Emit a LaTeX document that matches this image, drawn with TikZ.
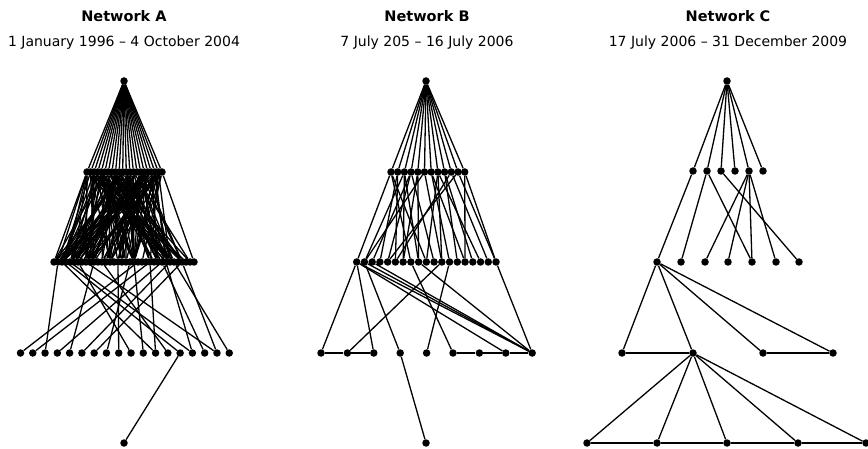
\documentclass[tikz,border=0pt]{standalone}
\usepackage{fontspec}
\setmainfont{DejaVu Sans}
\usetikzlibrary{positioning}

\begin{document}
\begin{tikzpicture}[
    x=1pt, y=-1pt,
    dot/.style={circle, fill=black, inner sep=0pt, minimum size=7.5pt},
    link/.style={line width=1.3pt, black},
    title/.style={font=\bfseries\fontsize{14.5}{17}\selectfont, inner sep=1pt},
    period/.style={font=\fontsize{14}{17}\selectfont, inner sep=1pt},
]
\useasboundingbox (0,0) rectangle (868,449);

% headings
\node[title] (tA) at (124,16) {Network A};
\node[period, below=12pt of tA] (pA) {1 January 1996 – 4 October 2004};
\node[title] (tB) at (427,16) {Network B};
\node[period, below=12pt of tB] (pB) {7 July 205 – 16 July 2006};
\node[title] (tC) at (728,16) {Network C};
\node[period, below=12pt of tC] (pC) {17 July 2006 – 31 December 2009};

% ---- Network A ----
\node[dot] (a0) at (124,81) {};
\foreach \i in {1,...,22}
    \node[dot] (a1-\i) at ({87+(\i-1)*75/21},172) {};
\foreach \i in {1,...,36}
    \node[dot] (a2-\i) at ({54+(\i-1)*4},262) {};
\foreach \i in {1,...,18}
    \node[dot] (a3-\i) at ({20.5+(\i-1)*12.28},353) {};
\node[dot] (a4) at (124,443) {};

\foreach \i in {1,...,22}
    \draw[link] (a0) -- (a1-\i);
\foreach \i in {1,...,22} {
    \foreach \k in {0,...,5} {
        \pgfmathtruncatemacro\j{mod(5*\i*\i+13*\k+3*\i*\k+7*\k*\k,36)+1}
        \draw[link] (a1-\i) -- (a2-\j);
    }
}
% outer and crossing links
\foreach \s/\t in {1/1, 22/36, 1/4, 2/30, 3/34, 4/33, 6/28, 17/8, 18/3, 20/5,
                   21/2, 22/10}
    \draw[link] (a1-\s) -- (a2-\t);
\foreach \s/\t in {2/3, 3/12, 4/14, 7/10, 11/5, 13/13, 22/1, 25/2, 28/4, 30/6,
                   33/7, 20/8, 17/9, 21/11, 25/12, 28/16, 31/18, 29/15, 33/17,
                   5/15, 9/17}
    \draw[link] (a2-\s) -- (a3-\t);
\draw[link] (a3-14) -- (a4);

% ---- Network B ----
\node[dot] (b0) at (426,81) {};
\foreach \i in {1,...,12}
    \node[dot] (b1-\i) at ({391+(\i-1)*6.7},172) {};
\foreach \i in {1,...,19}
    \node[dot] (b2-\i) at ({356.7+(\i-1)*7.74},262) {};
\foreach \i in {1,...,9}
    \node[dot] (b3-\i) at ({321+(\i-1)*26.4},353) {};
\node[dot] (b4) at (426,443) {};

\foreach \i in {1,...,12}
    \draw[link] (b0) -- (b1-\i);
\foreach \s/\t in {1/1, 1/8, 1/10, 2/4, 2/6, 3/2, 3/9, 3/7, 4/3, 4/5, 4/11,
                   5/7, 5/9, 6/12, 6/2, 7/13, 7/15, 8/10, 8/12, 8/17, 9/14,
                   9/16, 10/6, 10/18, 11/5, 11/19, 12/19, 12/15}
    \draw[link] (b1-\s) -- (b2-\t);
\foreach \s/\t in {1/1, 1/3, 1/8, 1/9, 2/4, 2/9, 3/9, 8/6, 9/9, 12/2, 13/5, 19/9}
    \draw[link] (b2-\s) -- (b3-\t);
\draw[link] (b3-1) -- (b3-2) -- (b3-3);
\draw[link] (b3-6) -- (b3-7) -- (b3-8) -- (b3-9);
\draw[link] (b3-4) -- (b4);

% ---- Network C ----
\node[dot] (c0) at (727,81) {};
\foreach \x [count=\i] in {693,707,721,735,749,763}
    \node[dot] (c1-\i) at (\x,171) {};
\foreach \x [count=\i] in {657,681,705,728,752,776,799}
    \node[dot] (c2-\i) at (\x,262) {};
\foreach \x [count=\i] in {622,693,763,833}
    \node[dot] (c3-\i) at (\x,353) {};
\foreach \x [count=\i] in {587,657,727,798,866}
    \node[dot] (c4-\i) at (\x,443) {};

\foreach \i in {1,...,6}
    \draw[link] (c0) -- (c1-\i);
\foreach \s/\t in {1/1, 2/2, 2/5, 3/7, 5/3, 5/4, 5/5, 5/6}
    \draw[link] (c1-\s) -- (c2-\t);
\foreach \i in {1,...,4}
    \draw[link] (c2-1) -- (c3-\i);
\draw[link] (c3-1) -- (c3-2);
\draw[link] (c3-3) -- (c3-4);
\foreach \i in {1,...,5}
    \draw[link] (c3-2) -- (c4-\i);
\draw[link] (c4-1) -- (c4-2) -- (c4-3) -- (c4-4) -- (c4-5);
\end{tikzpicture}
\end{document}
